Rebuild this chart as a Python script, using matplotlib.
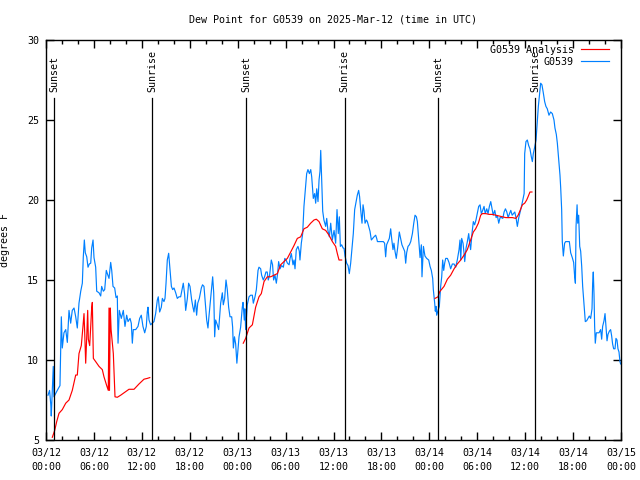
import numpy as np
import pandas as pd
import matplotlib
matplotlib.use('Agg')
import matplotlib.pyplot as plt
import matplotlib.dates as mdates

start = pd.Timestamp('2025-03-12 00:00')

# observed dew point (hours after start, degrees F)
obs_hours = [0.25, 0.45, 0.6, 0.66, 0.78, 0.91, 1.0, 1.2, 1.41, 1.75, 1.92, 2.04, 2.25, 2.47, 2.67, 2.88,
             3.09, 3.29, 3.51, 3.72, 3.92, 4.13, 4.35, 4.55, 4.67, 4.80, 4.92, 5.1, 5.26, 5.42, 5.6, 5.72,
             5.89, 6.01, 6.22, 6.35, 6.64, 6.85, 6.97, 7.18, 7.35, 7.55, 7.68, 7.89, 8.1, 8.23, 8.39, 8.6,
             8.77, 8.93, 9.02, 9.18, 9.43, 9.68, 9.89, 10.1, 10.27, 10.52, 10.68, 10.81, 10.93, 11.23, 11.52,
             11.73, 11.93, 12.14, 12.36, 12.56, 12.68, 12.77, 12.9, 13.1, 13.3, 13.52, 13.73, 13.94, 14.06,
             14.23, 14.44, 14.57, 14.77, 14.9, 15.03, 15.19, 15.36, 15.53, 15.7, 15.86, 16.03, 16.24, 16.44,
             16.65, 16.86, 17.07, 17.19, 17.36, 17.49, 17.7, 17.86, 18.03, 18.24, 18.4, 18.53, 18.7, 18.86,
             19.0, 19.2, 19.45, 19.6, 19.78, 19.95, 20.12, 20.28, 20.4, 20.6, 20.74, 20.87, 21.0, 21.12,
             21.24, 21.45, 21.62, 21.87, 22.08, 22.2, 22.37, 22.54, 22.7, 22.87, 23.04, 23.25, 23.37, 23.46,
             23.6, 23.75, 23.9, 24.17, 24.37, 24.58, 24.67, 24.83, 24.9, 25.0, 25.2, 25.42, 25.63, 25.84,
             25.96, 26.17, 26.34, 26.55, 26.67, 26.88, 27.0, 27.21, 27.37, 27.54, 27.7, 27.83, 28.0, 28.21,
             28.37, 28.5, 28.67, 28.84, 29.0, 29.13, 29.3, 29.5, 29.72, 29.9, 30.06, 30.23, 30.44, 30.56,
             30.72, 30.93, 31.06, 31.18, 31.34, 31.55, 31.72, 31.8, 31.97, 32.14, 32.3, 32.47, 32.64, 32.8,
             32.98, 33.15, 33.27, 33.47, 33.64, 33.77, 33.9, 34.06, 34.19, 34.31, 34.4, 34.52, 34.65, 34.8,
             35.02, 35.15, 35.3, 35.48, 35.65, 35.85, 36.07, 36.27, 36.44, 36.6, 36.73, 36.86, 37.02, 37.2,
             37.32, 37.44, 37.65, 37.82, 37.98, 38.15, 38.32, 38.48, 38.65, 38.8, 38.98, 39.15, 39.27, 39.4,
             39.57, 39.7, 39.82, 39.95, 40.12, 40.24, 40.4, 40.57, 40.74, 40.9, 41.07, 41.28, 41.41, 41.5,
             41.9, 42.24, 42.4, 42.53, 42.65, 42.82, 42.99, 43.16, 43.28, 43.45, 43.57, 43.7, 43.86, 44.03,
             44.24, 44.41, 44.57, 44.74, 44.91, 45.04, 45.16, 45.33, 45.5, 45.67, 45.88, 46.05, 46.21, 46.38,
             46.5, 46.67, 46.84, 47.0, 47.08, 47.26, 47.45, 47.67, 47.92, 48.09, 48.25, 48.42, 48.5, 48.67,
             48.75, 48.84, 48.92, 49.09, 49.25, 49.42, 49.55, 49.67, 49.8, 49.92, 50.05, 50.26, 50.46, 50.67,
             50.88, 51.1, 51.3, 51.5, 51.72, 51.84, 51.93, 52.05, 52.22, 52.34, 52.43, 52.6, 52.76, 52.93,
             53.05, 53.17, 53.34, 53.51, 53.67, 53.84, 54.0, 54.18, 54.35, 54.51, 54.68, 54.85, 55.0, 55.19,
             55.35, 55.52, 55.69, 55.85, 56.0, 56.19, 56.36, 56.53, 56.69, 56.86, 57.03, 57.2, 57.36, 57.53,
             57.7, 57.87, 58.04, 58.2, 58.37, 58.54, 58.7, 58.87, 59.02, 59.2, 59.37, 59.54, 59.7, 59.87,
             59.94, 60.1, 60.27, 60.44, 60.6, 60.77, 60.9, 61.02, 61.19, 61.36, 61.48, 61.65, 61.82, 61.94,
             62.1, 62.27, 62.44, 62.6, 62.77, 62.98, 63.19, 63.4, 63.61, 63.73, 63.9, 64.03, 64.2, 64.36,
             64.45, 64.57, 64.65, 64.78, 64.94, 65.07, 65.28, 65.53, 65.7, 65.9, 66.07, 66.2, 66.29, 66.37,
             66.5, 66.58, 66.7, 66.83, 66.95, 67.08, 67.2, 67.37, 67.53, 67.7, 67.87, 68.03, 68.2, 68.37,
             68.45, 68.53, 68.62, 68.7, 68.78, 68.91, 69.08, 69.25, 69.45, 69.58, 69.7, 69.87, 70.0, 70.12,
             70.25, 70.37, 70.54, 70.7, 70.83, 70.95, 71.08, 71.25, 71.37, 71.5, 71.62, 71.75, 71.87, 71.96]
obs_dewpt = [7.8, 8.1, 7.2, 6.5, 8.0, 9.6, 7.7, 7.9, 8.1, 8.4, 12.7, 10.75, 11.7, 11.9, 11.1, 13.1,
             12.3, 13.1, 13.25, 12.7, 12.0, 13.55, 14.3, 14.8, 16.45, 17.5, 16.7, 16.45, 15.8, 16.0, 16.05, 17.0,
             17.5, 16.4, 15.8, 14.3, 14.2, 14.0, 14.6, 14.3, 14.4, 15.6, 15.4, 15.1, 16.1, 15.6, 14.6, 14.5,
             13.9, 14.0, 11.05, 13.1, 12.6, 13.1, 12.1, 12.8, 12.4, 12.6, 12.3, 11.05, 11.9, 11.9, 12.1,
             12.6, 12.8, 12.1, 11.7, 12.1, 13.0, 13.3, 12.5, 12.2, 12.3, 12.4, 12.9, 13.75, 13.95,
             13.0, 13.3, 13.85, 13.65, 13.85, 14.8, 16.25, 16.67, 15.6, 14.6, 14.4, 14.5, 14.2, 13.85,
             13.95, 13.95, 14.5, 14.8, 14.1, 13.1, 13.85, 14.8, 14.6, 13.75, 13.3, 13.0, 13.75, 12.8,
             13.55, 13.85, 14.5, 14.7, 14.6, 13.55, 12.5, 12.0, 12.7, 13.75, 14.5, 15.2, 14.2, 11.45,
             12.5, 12.2, 11.9, 13.55, 14.2, 13.45, 13.85, 15.0, 14.4, 13.3, 12.7, 12.7, 12.05, 10.75,
             11.45, 11.0, 9.8, 11.45, 12.05, 13.3, 13.6, 12.5, 13.2, 11.9, 13.45, 13.95, 14.05, 14.05,
             13.55, 13.95, 14.4, 15.6, 15.8, 15.7, 15.3, 15.0, 15.2, 15.5, 15.5, 15.0, 15.3, 16.25,
             15.95, 15.0, 15.3, 14.8, 15.4, 16.15, 15.7, 15.9, 15.8, 16.35, 16.25, 16.05, 15.95, 16.35,
             16.65, 15.95, 16.25, 15.7, 16.9, 17.1, 16.8, 16.25, 17.3, 17.9, 19.6, 20.6, 21.65, 21.9,
             21.65, 21.9, 21.45, 20.1, 20.4, 19.8, 20.7, 19.9, 21.25, 21.8, 23.1, 21.25, 19.3, 18.75,
             18.35, 18.85, 18.1, 17.7, 18.55, 17.5, 18.1, 17.3, 19.4, 17.9, 18.95, 17.1, 17.2, 17.0,
             16.98, 16.5, 16.05, 15.9, 15.4, 16.05, 17.0, 17.9, 19.4, 19.8, 20.3, 20.6, 20.2, 19.4,
             18.55, 19.7, 19.3, 18.55, 18.75, 18.65, 18.35, 18.05, 17.5, 17.6, 17.7, 17.8, 17.6, 17.4,
             17.4, 17.4, 17.3, 16.45, 17.2, 17.4, 17.6, 18.2, 17.6, 16.9, 17.3, 16.8, 16.35, 17.0,
             18.0, 17.6, 17.2, 17.0, 16.8, 16.05, 16.7, 17.1, 17.2, 17.4, 17.9, 18.55, 19.05, 18.95,
             18.65, 17.5, 16.4, 17.2, 15.2, 17.1, 16.5, 16.35, 16.25, 15.85, 15.6, 15.1, 14.4, 13.55,
             13.05, 13.35, 12.8, 13.1, 13.35, 14.6, 15.2, 16.25, 15.6, 16.05, 16.35, 16.35, 16.1, 15.7,
             16.0, 16.0, 15.8, 16.25, 16.9, 17.5, 16.25, 17.6, 17.3, 16.7, 16.15, 17.0, 17.4, 17.9,
             17.3, 16.9, 17.9, 18.65, 18.45, 18.75, 19.15, 19.6, 19.7, 19.15, 19.35, 19.6, 19.15, 19.45,
             19.15, 19.6, 19.9, 19.45, 19.05, 19.35, 18.9, 19.0, 18.55, 18.9, 18.9, 18.85, 19.25, 19.45,
             19.25, 18.9, 19.15, 19.35, 19.05, 19.15, 19.25, 18.85, 18.35, 18.9, 19.25, 19.6, 20.0, 20.4,
             22.9, 23.65, 23.75, 23.4, 23.2, 22.7, 22.4, 22.9, 23.3, 23.75, 24.6, 25.85, 26.7, 27.3,
             27.2, 26.7, 26.15, 25.85, 25.7, 25.3, 25.5, 25.4, 25.0, 24.5, 24.1, 23.55, 22.5, 21.55,
             20.75, 19.4, 17.4, 16.5, 17.3, 17.4, 17.4, 17.4, 16.7, 16.4, 16.1, 15.2, 14.8, 18.35,
             19.7, 18.55, 19.05, 17.1, 16.8, 15.85, 14.6, 13.45, 12.4, 12.45, 12.6, 12.75, 12.6, 13.2,
             14.8, 15.5, 14.1, 12.1, 11.05, 11.7, 11.7, 11.7, 11.9, 11.3, 12.1, 12.45, 12.9, 12.1,
             11.2, 11.6, 11.8, 11.9, 11.5, 11.0, 10.7, 10.7, 11.35, 11.25, 10.7, 10.5, 9.9, 9.75]

# analysis dew point, NaN marks the gaps between runs
nan = float('nan')
ana_hours = [0.79, 1.09, 1.34, 1.63, 2.04, 2.47, 2.88, 3.29, 3.72, 3.92, 4.13, 4.42, 4.63, 4.76, 4.84,
             4.97, 5.1, 5.22, 5.3, 5.47, 5.6, 5.72, 5.8, 5.93, 6.22, 6.64, 7.05, 7.26, 7.6, 7.8, 7.89,
             7.95, 8.05, 8.15, 8.43, 8.64, 8.93, 9.35, 9.77, 10.39, 11.02, 11.64, 12.27, 12.68, 13.0,
             18.0,
             24.7, 25.0, 25.42, 25.84, 26.25, 26.67, 26.96, 27.3, 27.71, 28.13, 28.55, 28.97, 29.38, 29.8,
             30.22, 30.64, 31.05, 31.47, 31.89, 32.3, 32.72, 33.14, 33.56, 33.85, 34.19, 34.6, 35.02,
             35.44, 35.86, 36.27, 36.48, 36.69, 37.02,
             43.0,
             48.71, 49.09, 49.3, 49.51, 49.84, 50.26, 50.67, 51.1, 51.5, 51.93, 52.34, 52.76, 53.17, 53.51,
             53.8, 54.14, 54.43, 54.64, 55.06, 55.48, 55.9, 56.32, 56.74, 57.16, 57.57, 57.99, 58.41,
             58.83, 59.12, 59.37, 59.65, 59.94, 60.19, 60.36, 60.6, 60.85]
ana_dewpt = [5.17, 5.6, 6.15, 6.67, 6.9, 7.3, 7.5, 8.1, 9.06, 9.06, 10.4, 10.9, 12.1, 12.9, 11.8,
             9.8, 11.45, 13.1, 11.3, 10.9, 12.1, 13.25, 13.6, 10.1, 9.9, 9.6, 9.4, 8.95, 8.4, 8.1, 13.25,
             8.1, 13.25, 11.9, 10.4, 7.7, 7.67, 7.8, 7.95, 8.17, 8.17, 8.5, 8.8, 8.85, 8.9,
             nan,
             11.05, 11.35, 12.0, 12.2, 13.3, 13.95, 14.15, 14.9, 15.2, 15.2, 15.3, 15.4, 15.95, 16.15,
             16.35, 16.75, 17.15, 17.6, 17.7, 18.2, 18.3, 18.55, 18.75, 18.8, 18.65, 18.2, 18.1,
             17.8, 17.4, 17.1, 16.65, 16.25, 16.25,
             nan,
             13.85, 13.95, 14.27, 14.4, 14.6, 15.05, 15.3, 15.7, 16.0, 16.25, 16.55, 16.9, 17.5, 18.0,
             18.2, 18.55, 19.05, 19.15, 19.15, 19.1, 19.1, 19.05, 19.0, 18.95, 18.9, 18.9, 18.9,
             18.85, 19.05, 19.35, 19.7, 19.8, 20.0, 20.2, 20.5, 20.5]

event_names = ['Sunset', 'Sunrise', 'Sunset', 'Sunrise', 'Sunset', 'Sunrise']
event_hours = [1.0, 13.3, 25.04, 37.38, 49.1, 61.27]

font = 'DejaVu Sans Mono'
fs = 7.2
plt.rcParams['font.family'] = font
plt.rcParams['font.size'] = fs

obs_t = start + pd.to_timedelta(obs_hours, unit='h')
ana_t = start + pd.to_timedelta(ana_hours, unit='h')
ev_t = start + pd.to_timedelta(event_hours, unit='h')

fig = plt.figure(figsize=(6.4, 4.8), dpi=100)
ax = fig.add_axes([46 / 640, 40 / 480, 575 / 640, 400 / 480])

blue = '#0080ff'
red = '#ff0000'
l_obs, = ax.plot(obs_t, obs_dewpt, color=blue, linewidth=0.85, zorder=2)
l_ana, = ax.plot(ana_t, ana_dewpt, color=red, linewidth=0.85, zorder=3)

ymax_line = 26.4
for name, t in zip(event_names, ev_t):
    ax.plot([t, t], [5, ymax_line], color='black', linewidth=0.9, zorder=4)
    ax.text(t, ymax_line + 0.35, name, rotation=90, ha='center', va='bottom',
            fontsize=fs, zorder=5)

ax.set_xlim(start, start + pd.Timedelta(hours=72))
ax.set_ylim(5, 30)
ax.set_yticks([5, 10, 15, 20, 25, 30])

ax.xaxis.set_major_locator(mdates.HourLocator(byhour=[0, 6, 12, 18]))
ax.xaxis.set_minor_locator(mdates.HourLocator(byhour=range(0, 24, 2)))
ax.xaxis.set_major_formatter(mdates.DateFormatter('%m/%d\n%H:%M'))

ax.tick_params(which='both', direction='in', top=True, right=True, width=1, colors='black')
ax.tick_params(which='major', length=6)
ax.tick_params(which='minor', length=3)
ax.tick_params(axis='x', pad=6)
ax.tick_params(axis='y', pad=5)
for lab in ax.get_xticklabels():
    lab.set_linespacing(1.45)

for sp in ax.spines.values():
    sp.set_linewidth(1.0)
    sp.set_color('black')

ax.set_ylabel('degrees F', fontsize=fs)
ax.yaxis.set_label_coords(-0.0626, 0.5)

fig.text(333 / 640, 1 - 19 / 480, 'Dew Point for G0539 on 2025-Mar-12 (time in UTC)',
         ha='center', va='center', fontsize=fs)

# gnuplot-like key: text right-aligned, sample line on the right
leg1 = ax.legend([l_ana], ['G0539 Analysis'], loc='center right', bbox_to_anchor=(0.979, 0.975),
                 frameon=False, markerfirst=False, borderpad=0, borderaxespad=0,
                 handlelength=2.8, handletextpad=0.7, fontsize=fs)
ax.add_artist(leg1)
ax.legend([l_obs], ['G0539'], loc='center right', bbox_to_anchor=(0.979, 0.945),
          frameon=False, markerfirst=False, borderpad=0, borderaxespad=0,
          handlelength=2.8, handletextpad=0.7, fontsize=fs)

fig.savefig('out.png', dpi=100)
